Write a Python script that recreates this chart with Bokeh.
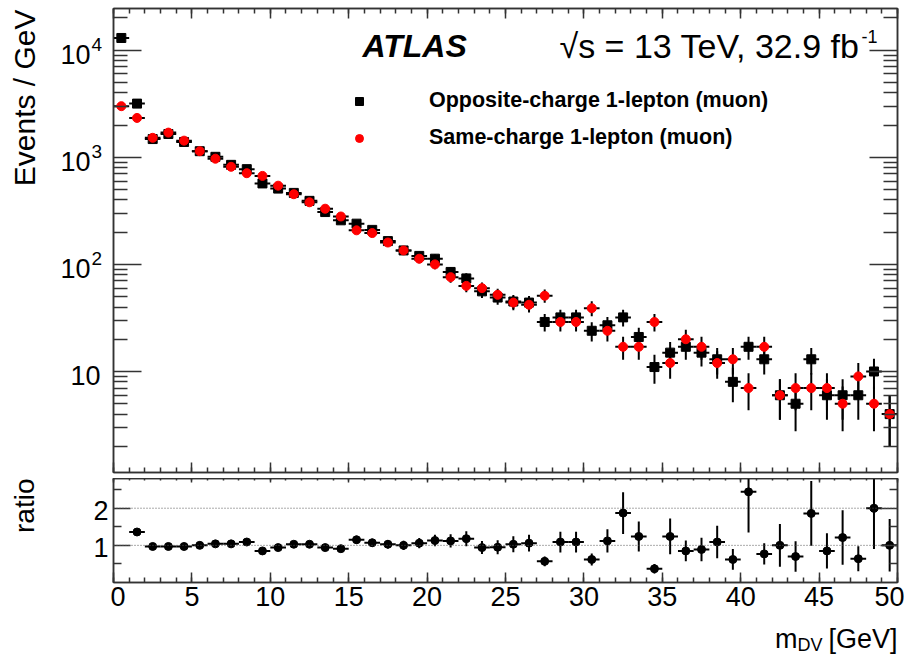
import math
from bokeh.plotting import figure
from bokeh.models import (Range1d, LinearAxis, LogAxis, FixedTicker, Span, Label,
                          Legend, LegendItem, ColumnDataSource, CustomJSTickFormatter)
from bokeh.layouts import column, row
from bokeh.embed import file_html
from bokeh.resources import INLINE

FONT = "Liberation Sans"
FRAME = "#333333"

# ---------------- data ----------------
mass_bins = [0.5, 1.5, 2.5, 3.5, 4.5, 5.5, 6.5, 7.5, 8.5, 9.5,
             10.5, 11.5, 12.5, 13.5, 14.5, 15.5, 16.5, 17.5, 18.5, 19.5,
             20.5, 21.5, 22.5, 23.5, 24.5, 25.5, 26.5, 27.5, 28.5, 29.5,
             30.5, 31.5, 32.5, 33.5, 34.5, 35.5, 36.5, 37.5, 38.5, 39.5,
             40.5, 41.5, 42.5, 43.5, 44.5, 45.5, 46.5, 47.5, 48.5, 49.5]
bin_half_width = 0.5

os_events = [13000, 3170, 1480, 1650, 1390, 1140, 1010, 850, 775, 570,
             510, 465, 392, 308, 258, 240, 210, 165, 135, 120,
             113, 85, 74, 56, 49, 45, 44, 29, 32, 32,
             24, 27, 32, 21, 11, 15, 17, 15, 13, 8,
             17, 13, 6, 5, 13, 6, 6, 6, 10, 4]

ss_events = [3000, 2330, 1520, 1700, 1430, 1140, 970, 815, 710, 670,
             543, 452, 380, 331, 280, 208, 196, 160, 135, 113,
             100, 76, 63, 60, 52, 44, 42, 51, 29, 29,
             39, 24, 17, 17, 29, 12, 20, 17, 12, 13,
             7, 17, 6, 7, 7, 7, 5, 9, 5, 4]

ratio_os_ss = [4.33, 1.36, 0.97, 0.97, 0.97, 1.00, 1.04, 1.04, 1.09, 0.85,
               0.94, 1.03, 1.03, 0.94, 0.91, 1.15, 1.07, 1.03, 1.00, 1.06,
               1.13, 1.12, 1.18, 0.94, 0.95, 1.03, 1.06, 0.57, 1.09, 1.09,
               0.62, 1.12, 1.87, 1.24, 0.37, 1.24, 0.85, 0.89, 1.09, 0.62,
               2.44, 0.77, 1.00, 0.70, 1.86, 0.85, 1.21, 0.64, 2.00, 1.00]

legend_labels = ["Opposite-charge 1-lepton (muon)", "Same-charge 1-lepton (muon)"]

x_major_ticks = [0, 5, 10, 15, 20, 25, 30, 35, 40, 45, 50]
x_minor_ticks = list(range(0, 51))
y_major_ticks = [10, 100, 1000, 10000]
y_tick_mantissa = ["10", "10", "10", "10"]
y_tick_exponent = ["", "2", "3", "4"]
y_minor_ticks = [m * 10 ** e for e in range(0, 5) for m in range(2, 10)]
ratio_major_ticks = [1, 2]
ratio_tick_labels = ["1", "2"]
ratio_minor_ticks = [0.5, 1.5, 2.5]
ratio_ref_lines = [1, 2]

X_RANGE = (0, 50)
Y_RANGE = (1.14, 24500)
R_RANGE = (0, 2.8)

# ---------------- derived error bars ----------------
def series_source(vals):
    err = [math.sqrt(v) for v in vals]
    return ColumnDataSource(dict(
        x=mass_bins, y=vals,
        lo=[v - e for v, e in zip(vals, err)], hi=[v + e for v, e in zip(vals, err)],
        xl=[x - bin_half_width for x in mass_bins], xr=[x + bin_half_width for x in mass_bins]))

src_os = series_source(os_events)
src_ss = series_source(ss_events)
rerr = [r * math.sqrt(1.0 / a + 1.0 / b) for r, a, b in zip(ratio_os_ss, os_events, ss_events)]
src_r = ColumnDataSource(dict(
    x=mass_bins, y=ratio_os_ss,
    lo=[r - e for r, e in zip(ratio_os_ss, rerr)], hi=[r + e for r, e in zip(ratio_os_ss, rerr)],
    xl=[x - bin_half_width for x in mass_bins], xr=[x + bin_half_width for x in mass_bins]))


def make_axis(cls, ticks, minor, major_in, minor_in, labels=False, size="27px", standoff=4):
    ax = cls(ticker=FixedTicker(ticks=ticks, minor_ticks=minor), axis_label=None)
    ax.major_tick_in = major_in
    ax.major_tick_out = 0
    ax.minor_tick_in = minor_in
    ax.minor_tick_out = 0
    ax.axis_line_color = FRAME
    ax.axis_line_width = 1.5
    ax.major_tick_line_color = FRAME
    ax.major_tick_line_width = 1.5
    ax.minor_tick_line_color = FRAME
    ax.minor_tick_line_width = 1.5
    if labels:
        ax.major_label_text_font = FONT
        ax.major_label_text_font_size = size
        ax.major_label_text_color = "black"
        ax.major_label_standoff = standoff
    else:
        ax.formatter = CustomJSTickFormatter(code="return ''")
        ax.major_label_text_font_size = "0px"
        ax.major_label_standoff = 0
    return ax


def add_text(fig, x, y, text, dx, dy, size, align="left", baseline="middle",
             style="normal", angle=0.0):
    fig.add_layout(Label(x=x, y=y, x_offset=dx, y_offset=dy, text=text,
                         text_font=FONT, text_font_size=size, text_align=align,
                         text_baseline=baseline, text_font_style=style,
                         angle=angle, text_color="black"))


def plain(fig):
    fig.outline_line_color = None
    fig.grid.visible = False
    fig.background_fill_color = "white"
    fig.border_fill_color = "white"


def framed(fig):
    fig.outline_line_color = FRAME
    fig.outline_line_width = 1.5
    fig.grid.visible = False
    fig.background_fill_color = "white"
    fig.border_fill_color = "white"


LEFT_W = 110
RIGHT_W = 794
common = dict(output_backend="svg", toolbar_location=None,
              x_axis_location=None, y_axis_location=None)

# ---------------- main panel ----------------
p1 = figure(width=RIGHT_W, height=478, x_range=Range1d(*X_RANGE), y_range=Range1d(*Y_RANGE),
            y_axis_type="log", min_border_left=3, min_border_right=7,
            min_border_top=8, min_border_bottom=6, **common)
framed(p1)

p1.add_layout(make_axis(LogAxis, y_major_ticks, y_minor_ticks, 28, 14), "left")
p1.add_layout(make_axis(LogAxis, y_major_ticks, y_minor_ticks, 28, 14), "right")
p1.add_layout(make_axis(LinearAxis, x_major_ticks, x_minor_ticks, 10, 5), "below")
p1.add_layout(make_axis(LinearAxis, x_major_ticks, x_minor_ticks, 10, 5), "above")

for src in (src_os, src_ss):
    p1.segment(x0="x", y0="lo", x1="x", y1="hi", source=src, line_color="black", line_width=2)
    p1.segment(x0="xl", y0="y", x1="xr", y1="y", source=src, line_color="black", line_width=2)
r_os = p1.scatter("x", "y", source=src_os, marker="square", size=9, color="black")
r_ss = p1.scatter("x", "y", source=src_ss, marker="circle", size=9, color="#ff0000")

legend = Legend(items=[LegendItem(label=legend_labels[0], renderers=[r_os]),
                       LegendItem(label=legend_labels[1], renderers=[r_ss])],
                location=(236, 322), orientation="vertical",
                border_line_color=None, background_fill_alpha=0,
                padding=0, margin=0, spacing=12,
                glyph_width=20, glyph_height=20, label_height=22,
                label_standoff=60, label_text_font=FONT, label_text_color="black",
                label_text_font_size="21.5px", label_text_font_style="bold",
                label_text_baseline="middle")
p1.add_layout(legend)

add_text(p1, X_RANGE[0], Y_RANGE[1], "ATLAS", 249, -37, "32px", style="bold italic")
add_text(p1, X_RANGE[0], Y_RANGE[1], "\u221As = 13 TeV, 32.9 fb", 746, -37, "34px", align="right")
add_text(p1, X_RANGE[0], Y_RANGE[1], "-1", 748, -28, "18px", align="left")

# left text strip for the main panel (shares the log y scale)
pl1 = figure(width=LEFT_W, height=478, x_range=Range1d(0, LEFT_W), y_range=p1.y_range,
             y_axis_type="log", min_border_left=0, min_border_right=0,
             min_border_top=8, min_border_bottom=6, **common)
plain(pl1)
for val, man, exp in zip(y_major_ticks, y_tick_mantissa, y_tick_exponent):
    if exp:
        add_text(pl1, 90, val, man, 0, -4, "27px", align="right")
        add_text(pl1, 91, val, exp, 0, 6, "19px", align="left")
    else:
        add_text(pl1, 100, val, man, 0, -4, "27px", align="right")
add_text(pl1, 24, Y_RANGE[1], "Events / GeV", 0, -1, "30px", align="right", angle=math.pi / 2)

# ---------------- ratio panel ----------------
p2 = figure(width=RIGHT_W, height=144, x_range=p1.x_range, y_range=Range1d(*R_RANGE),
            min_border_left=3, min_border_right=7, min_border_top=0, min_border_bottom=40,
            **common)
framed(p2)

p2.add_layout(make_axis(LinearAxis, ratio_major_ticks, ratio_minor_ticks, 17, 8), "left")
p2.add_layout(make_axis(LinearAxis, ratio_major_ticks, ratio_minor_ticks, 17, 8), "right")
p2.add_layout(make_axis(LinearAxis, x_major_ticks, x_minor_ticks, 10, 5,
                        labels=True, size="27px", standoff=4), "below")
p2.add_layout(make_axis(LinearAxis, x_major_ticks, x_minor_ticks, 4, 2), "above")

for loc in ratio_ref_lines:
    p2.add_layout(Span(location=loc, dimension="width", line_color="#555555",
                       line_width=1, line_dash="1 2"))

p2.segment(x0="x", y0="lo", x1="x", y1="hi", source=src_r, line_color="black", line_width=2)
p2.segment(x0="xl", y0="y", x1="xr", y1="y", source=src_r, line_color="black", line_width=2)
p2.scatter("x", "y", source=src_r, marker="circle", size=8, color="black")

pl2 = figure(width=LEFT_W, height=144, x_range=Range1d(0, LEFT_W), y_range=p2.y_range,
             min_border_left=0, min_border_right=0, min_border_top=0, min_border_bottom=40,
             **common)
plain(pl2)
for val, lab in zip(ratio_major_ticks, ratio_tick_labels):
    add_text(pl2, 108, val, lab, 0, -2, "27px", align="right")
add_text(pl2, 24, R_RANGE[1], "ratio", 0, 0, "28px", align="right", angle=math.pi / 2)

# ---------------- x-axis title strip ----------------
p3 = figure(width=RIGHT_W, height=36, x_range=p1.x_range, y_range=Range1d(0, 36),
            min_border_left=3, min_border_right=7, min_border_top=0, min_border_bottom=0,
            **common)
plain(p3)
add_text(p3, X_RANGE[1], 20, "[GeV]", 0, 0, "27px", align="right", baseline="alphabetic")
add_text(p3, X_RANGE[1], 14, "DV", -75, 0, "18px", align="right", baseline="alphabetic")
add_text(p3, X_RANGE[1], 20, "m", -100, 0, "27px", align="right", baseline="alphabetic")

layout = row(column(pl1, pl2, spacing=0), column(p1, p2, p3, spacing=0), spacing=0)
open("out.html", "w").write(file_html(layout, INLINE))
